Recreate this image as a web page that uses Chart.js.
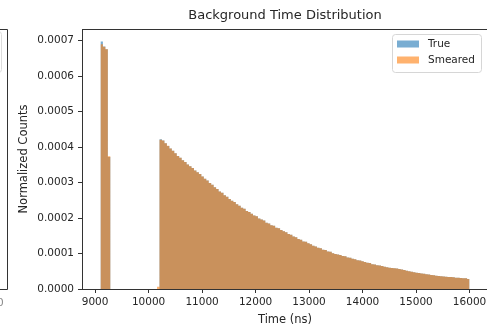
<!DOCTYPE html>
<html>
<head>
<meta charset="utf-8">
<script src="https://cdn.jsdelivr.net/npm/chart.js@4.4.0/dist/chart.umd.min.js"></script>
<style>
html, body { margin: 0; padding: 0; overflow: hidden; background: #fff; }
</style>
</head>
<body>
<canvas id="myChart" width="490" height="330"></canvas>
<script>
const ctx = document.getElementById('myChart');

// histogram bin edges (ns), 150 bins
const binEdges = [
    9100, 9146, 9192, 9238, 9284, 9330, 9376, 9422, 9468, 9514,
    9560, 9606, 9652, 9698, 9744, 9790, 9836, 9882, 9928, 9974,
    10020, 10066, 10112, 10158, 10204, 10250, 10296, 10342, 10388, 10434,
    10480, 10526, 10572, 10618, 10664, 10710, 10756, 10802, 10848, 10894,
    10940, 10986, 11032, 11078, 11124, 11170, 11216, 11262, 11308, 11354,
    11400, 11446, 11492, 11538, 11584, 11630, 11676, 11722, 11768, 11814,
    11860, 11906, 11952, 11998, 12044, 12090, 12136, 12182, 12228, 12274,
    12320, 12366, 12412, 12458, 12504, 12550, 12596, 12642, 12688, 12734,
    12780, 12826, 12872, 12918, 12964, 13010, 13056, 13102, 13148, 13194,
    13240, 13286, 13332, 13378, 13424, 13470, 13516, 13562, 13608, 13654,
    13700, 13746, 13792, 13838, 13884, 13930, 13976, 14022, 14068, 14114,
    14160, 14206, 14252, 14298, 14344, 14390, 14436, 14482, 14528, 14574,
    14620, 14666, 14712, 14758, 14804, 14850, 14896, 14942, 14988, 15034,
    15080, 15126, 15172, 15218, 15264, 15310, 15356, 15402, 15448, 15494,
    15540, 15586, 15632, 15678, 15724, 15770, 15816, 15862, 15908, 15954,
    16000
];

// normalized counts per bin, in units of 1e-4
const trueCounts = [
    6.98, 6.84, 6.76, 3.72, 0, 0, 0, 0, 0, 0,
    0, 0, 0, 0, 0, 0, 0, 0, 0, 0,
    0, 0, 0, 0, 4.22, 4.19, 4.11, 4.03, 3.96, 3.90,
    3.83, 3.75, 3.70, 3.63, 3.58, 3.51, 3.46, 3.41, 3.34, 3.29,
    3.24, 3.17, 3.11, 3.06, 2.99, 2.94, 2.87, 2.82, 2.75, 2.71,
    2.64, 2.60, 2.54, 2.49, 2.45, 2.39, 2.35, 2.29, 2.26, 2.20,
    2.17, 2.12, 2.07, 2.05, 1.99, 1.96, 1.93, 1.87, 1.85, 1.80,
    1.78, 1.73, 1.71, 1.66, 1.63, 1.60, 1.55, 1.53, 1.48, 1.46,
    1.41, 1.39, 1.34, 1.33, 1.29, 1.26, 1.22, 1.20, 1.16, 1.15,
    1.11, 1.10, 1.06, 1.05, 1.01, 0.99, 0.97, 0.96, 0.93, 0.92,
    0.89, 0.88, 0.85, 0.84, 0.81, 0.80, 0.78, 0.76, 0.74, 0.73,
    0.70, 0.69, 0.67, 0.66, 0.645, 0.63, 0.615, 0.60, 0.59, 0.585,
    0.575, 0.565, 0.55, 0.535, 0.515, 0.50, 0.485, 0.475, 0.46, 0.45,
    0.44, 0.43, 0.415, 0.41, 0.395, 0.39, 0.375, 0.37, 0.36, 0.355,
    0.345, 0.34, 0.335, 0.33, 0.32, 0.315, 0.31, 0.305, 0.30, 0.285
];

const smearedCounts = [
    6.90, 6.83, 6.76, 3.74, 0, 0, 0, 0, 0, 0,
    0, 0, 0, 0, 0, 0, 0, 0, 0, 0,
    0, 0, 0, 0.06, 4.21, 4.19, 4.11, 4.04, 3.96, 3.90,
    3.83, 3.75, 3.70, 3.63, 3.58, 3.51, 3.46, 3.41, 3.34, 3.29,
    3.24, 3.17, 3.11, 3.06, 2.99, 2.94, 2.87, 2.82, 2.75, 2.71,
    2.64, 2.60, 2.54, 2.49, 2.45, 2.39, 2.35, 2.29, 2.26, 2.20,
    2.17, 2.12, 2.07, 2.05, 1.99, 1.96, 1.93, 1.87, 1.85, 1.80,
    1.78, 1.73, 1.71, 1.66, 1.63, 1.60, 1.55, 1.53, 1.48, 1.46,
    1.41, 1.39, 1.34, 1.33, 1.29, 1.26, 1.22, 1.20, 1.16, 1.15,
    1.11, 1.10, 1.06, 1.05, 1.01, 0.99, 0.97, 0.96, 0.93, 0.92,
    0.89, 0.88, 0.85, 0.84, 0.81, 0.80, 0.78, 0.76, 0.74, 0.73,
    0.70, 0.69, 0.67, 0.66, 0.645, 0.63, 0.615, 0.60, 0.59, 0.585,
    0.575, 0.565, 0.55, 0.535, 0.515, 0.50, 0.485, 0.475, 0.46, 0.45,
    0.44, 0.43, 0.415, 0.41, 0.395, 0.39, 0.375, 0.37, 0.36, 0.355,
    0.345, 0.34, 0.335, 0.33, 0.32, 0.315, 0.31, 0.305, 0.30, 0.285
];

const xTicks = [9000, 10000, 11000, 12000, 13000, 14000, 15000, 16000];
const yTicks = [0, 0.0001, 0.0002, 0.0003, 0.0004, 0.0005, 0.0006, 0.0007];

const FONT = 'DejaVu Sans';
const TEXT = '#262626';

// stepped outline: value of bin i from edge i to edge i+1, drop to 0 at the end
function toSteps(counts) {
    const pts = counts.map((c, i) => ({ x: binEdges[i], y: c * 1e-4 }));
    pts.push({ x: binEdges[binEdges.length - 1], y: 0 });
    return pts;
}

const frame = {
    id: 'frame',
    afterDatasetsDraw(chart) {
        const a = chart.chartArea;
        const c = chart.ctx;
        c.save();
        c.strokeStyle = '#333';
        c.lineWidth = 1;
        c.strokeRect(Math.round(a.left) + 0.5, Math.round(a.top) + 0.5,
            Math.round(a.right - a.left), Math.round(a.bottom - a.top));

        // edge of the neighbouring panel, cut off on the left
        c.beginPath();
        c.moveTo(-2, Math.round(a.top) + 0.5);
        c.lineTo(7.5, Math.round(a.top) + 0.5);
        c.lineTo(7.5, Math.round(a.bottom) + 0.5);
        c.lineTo(-2, Math.round(a.bottom) + 0.5);
        c.stroke();
        c.strokeStyle = '#dcdcdc';
        c.beginPath();
        c.roundRect(-80.5, Math.round(a.top) + 2.5, 82, 41, 3);
        c.stroke();
        c.fillStyle = '#888';
        c.font = '10.5px ' + FONT;
        c.textAlign = 'center';
        c.textBaseline = 'middle';
        c.fillText('16000', -13, Math.round(a.bottom) + 14);

        // title, centred over the axes
        c.fillStyle = TEXT;
        c.font = '13px ' + FONT;
        c.fillText('Background Time Distribution', (a.left + a.right) / 2, 16);
        c.restore();
    }
};

const boxLegend = {
    id: 'boxLegend',
    afterDraw(chart) {
        const a = chart.chartArea;
        const c = chart.ctx;
        const sets = chart.data.datasets;
        const w = 89, h = 38;
        const left = a.right - 7 - w;
        const top = a.top + 5;
        c.save();
        c.fillStyle = 'rgba(255,255,255,0.8)';
        c.strokeStyle = '#d6d6d6';
        c.lineWidth = 1;
        c.beginPath();
        c.roundRect(Math.round(left) + 0.5, Math.round(top) + 0.5, w, h, 3);
        c.fill();
        c.stroke();
        c.font = '10.5px ' + FONT;
        c.textBaseline = 'middle';
        c.textAlign = 'left';
        sets.forEach((ds, i) => {
            const cy = top + 10 + i * 16;
            c.fillStyle = ds.backgroundColor;
            c.fillRect(left + 5, cy - 3.5, 22, 7);
            c.fillStyle = TEXT;
            c.fillText(ds.label, left + 36, cy);
        });
        c.restore();
    }
};

new Chart(ctx, {
    type: 'line',
    data: {
        datasets: [{
            label: 'True',
            data: toSteps(trueCounts),
            backgroundColor: 'rgba(31,119,180,0.6)',
            borderColor: 'rgba(0,0,0,0)',
            borderWidth: 1,
            fill: 'origin',
            stepped: 'before',
            pointRadius: 0,
            order: 2
        }, {
            label: 'Smeared',
            data: toSteps(smearedCounts),
            backgroundColor: 'rgba(255,127,14,0.6)',
            borderColor: 'rgba(0,0,0,0)',
            borderWidth: 1,
            fill: 'origin',
            stepped: 'before',
            pointRadius: 0,
            order: 1
        }]
    },
    options: {
        responsive: false,
        animation: false,
        events: [],
        layout: { padding: { left: 0, right: 2, top: 29, bottom: 0 } },
        scales: {
            x: {
                type: 'linear',
                min: 8755,
                max: 16345,
                afterFit: s => { s.height = 41; },
                afterBuildTicks: s => { s.ticks = xTicks.map(v => ({ value: v })); },
                ticks: {
                    autoSkip: false,
                    maxRotation: 0,
                    padding: 3,
                    color: TEXT,
                    font: { family: FONT, size: 10.5 },
                    callback: v => String(v)
                },
                grid: { drawOnChartArea: false, drawTicks: true, tickLength: 4, color: '#333' },
                border: { display: false },
                title: {
                    display: true,
                    text: 'Time (ns)',
                    color: TEXT,
                    font: { family: FONT, size: 11.5 },
                    padding: { top: 0, bottom: 3 }
                }
            },
            y: {
                min: 0,
                max: 0.000733,
                afterFit: s => { s.width = 82; },
                afterBuildTicks: s => { s.ticks = yTicks.map(v => ({ value: v })); },
                ticks: {
                    padding: 4,
                    color: TEXT,
                    font: { family: FONT, size: 10.5 },
                    callback: v => v.toFixed(4)
                },
                grid: { drawOnChartArea: false, drawTicks: true, tickLength: 4, color: '#333' },
                border: { display: false },
                title: {
                    display: true,
                    text: 'Normalized Counts',
                    color: TEXT,
                    font: { family: FONT, size: 11.5 },
                    padding: { top: 17, bottom: 0 }
                }
            }
        },
        plugins: {
            legend: { display: false },
            tooltip: { enabled: false },
            title: { display: false }
        }
    },
    plugins: [frame, boxLegend]
});
</script>
</body>
</html>
